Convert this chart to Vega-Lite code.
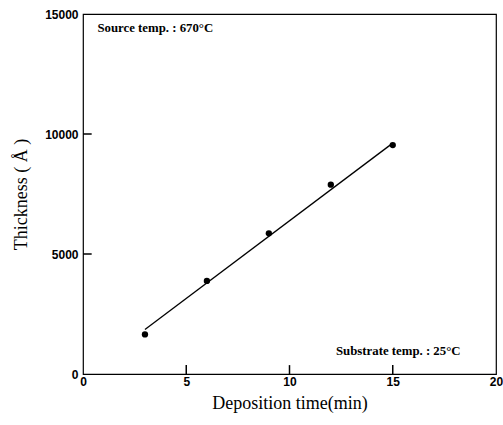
{
  "$schema": "https://vega.github.io/schema/vega-lite/v6.json",
  "width": 413,
  "height": 360,
  "autosize": {"type": "none"},
  "padding": {"left": 83, "top": 14, "right": 7, "bottom": 51},
  "background": "white",
  "config": {
    "view": {"stroke": "black", "strokeWidth": 1.2},
    "axis": {
      "domain": false,
      "ticks": false,
      "grid": false,
      "labelFont": "Liberation Sans",
      "labelFontWeight": "bold",
      "labelFontSize": 12,
      "labelColor": "black",
      "titleFont": "Liberation Serif",
      "titleFontWeight": "normal",
      "titleFontSize": 18,
      "titleColor": "black"
    }
  },
  "datasets": {
    "measured": [
      {"time": 3, "thickness": 1650},
      {"time": 6, "thickness": 3880},
      {"time": 9, "thickness": 5860},
      {"time": 12, "thickness": 7890},
      {"time": 15, "thickness": 9540}
    ],
    "fit": [
      {"time": 3, "thickness": 1850},
      {"time": 15, "thickness": 9620}
    ],
    "xTicks": [
      {"time": 5, "low": 0, "high": 370},
      {"time": 10, "low": 0, "high": 370},
      {"time": 15, "low": 0, "high": 370}
    ],
    "yTicks": [
      {"thickness": 5000, "low": 0, "high": 0.42},
      {"thickness": 10000, "low": 0, "high": 0.42}
    ],
    "notes": [
      {"time": 0.7, "thickness": 14400, "label": "Source temp. : 670°C"},
      {"time": 12.25, "thickness": 950, "label": "Substrate temp. : 25°C"}
    ]
  },
  "layer": [
    {
      "data": {"name": "fit"},
      "mark": {"type": "line", "color": "black", "strokeWidth": 1.3},
      "encoding": {
        "x": {
          "field": "time",
          "type": "quantitative",
          "scale": {"domain": [0, 20], "nice": false},
          "axis": {
            "title": "Deposition time(min)",
            "values": [0, 5, 10, 15, 20],
            "format": "d",
            "labelPadding": 2,
            "titlePadding": 7,
            "labelFlush": false
          }
        },
        "y": {
          "field": "thickness",
          "type": "quantitative",
          "scale": {"domain": [0, 15000], "nice": false},
          "axis": {
            "title": "Thickness ( Å )",
            "values": [0, 5000, 10000, 15000],
            "format": "d",
            "labelPadding": 5,
            "titlePadding": 14,
            "labelFlush": false
          }
        }
      }
    },
    {
      "data": {"name": "xTicks"},
      "mark": {"type": "rule", "color": "black", "strokeWidth": 1.5},
      "encoding": {
        "x": {"field": "time", "type": "quantitative"},
        "y": {"field": "low", "type": "quantitative"},
        "y2": {"field": "high"}
      }
    },
    {
      "data": {"name": "yTicks"},
      "mark": {"type": "rule", "color": "black", "strokeWidth": 1.5},
      "encoding": {
        "y": {"field": "thickness", "type": "quantitative"},
        "x": {"field": "low", "type": "quantitative"},
        "x2": {"field": "high"}
      }
    },
    {
      "data": {"name": "measured"},
      "mark": {"type": "point", "filled": true, "color": "black", "size": 40, "opacity": 1},
      "encoding": {
        "x": {"field": "time", "type": "quantitative"},
        "y": {"field": "thickness", "type": "quantitative"}
      }
    },
    {
      "data": {"name": "notes"},
      "mark": {
        "type": "text",
        "align": "left",
        "baseline": "middle",
        "font": "Liberation Serif",
        "fontWeight": "bold",
        "fontSize": 12.8,
        "color": "black"
      },
      "encoding": {
        "x": {"field": "time", "type": "quantitative"},
        "y": {"field": "thickness", "type": "quantitative"},
        "text": {"field": "label"}
      }
    }
  ]
}
